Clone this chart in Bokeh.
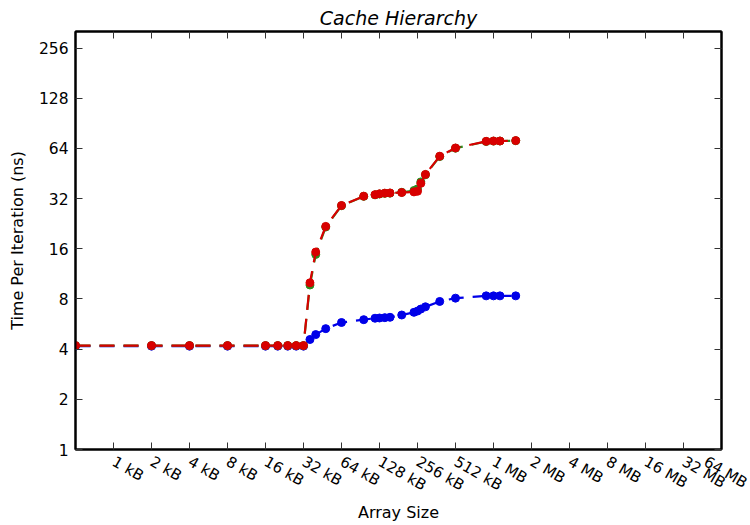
import math
from bokeh.plotting import figure
from bokeh.models import (Range1d, LogAxis, FixedTicker, ColumnDataSource)
from bokeh.embed import file_html
from bokeh.resources import INLINE

# ---- data (array size in kB, time per iteration in ns) ----
sizes_kb = [0.5, 2, 4, 8, 16, 20, 24, 28, 32, 36, 40, 48, 64, 96, 118, 128, 141, 155,
            192, 240, 256, 272, 296, 384, 512, 896, 1024, 1152, 1536]
blue_ns = [4.17, 4.17, 4.17, 4.17, 4.17, 4.17, 4.17, 4.17, 4.17, 4.57, 4.89, 5.31, 5.78,
           6.01, 6.13, 6.15, 6.18, 6.21, 6.41, 6.65, 6.77, 6.96, 7.18, 7.73, 8.09,
           8.35, 8.35, 8.35, 8.35]
green_ns = [4.2, 4.2, 4.2, 4.2, 4.2, 4.2, 4.2, 4.2, 4.2, 9.7, 14.8, 21.6, 29.0,
            33.0, 33.7, 34.1, 34.4, 34.5, 34.9, 35.8, 36.6, 40.3, 44.5, 57.2, 64.2,
            70.4, 70.8, 70.9, 71.2]
red_ns = [4.2, 4.2, 4.2, 4.2, 4.2, 4.2, 4.2, 4.2, 4.2, 10.0, 15.3, 21.8, 29.1,
          33.1, 33.8, 34.2, 34.5, 34.6, 34.8, 35.1, 35.4, 39.5, 44.7, 57.5, 64.4,
          70.6, 70.9, 70.9, 71.3]

x_tick_bytes = [2 ** k for k in range(10, 27)]
x_tick_labels = ["1 kB", "2 kB", "4 kB", "8 kB", "16 kB", "32 kB", "64 kB", "128 kB",
                 "256 kB", "512 kB", "1 MB", "2 MB", "4 MB", "8 MB", "16 MB", "32 MB",
                 "64 MB"]
y_ticks = [1, 2, 4, 8, 16, 32, 64, 128, 256]

FONT = "DejaVu Sans"

p = figure(width=750, height=525, x_axis_type="log", y_axis_type="log",
           x_range=Range1d(2 ** 9, 2 ** 26), y_range=Range1d(1, 2 ** 8.33),
           output_backend="svg", toolbar_location=None,
           min_border_left=75, min_border_right=29, min_border_top=31,
           min_border_bottom=73)

p.title.text = "Cache Hierarchy"
p.title.align = "center"
p.title.text_font = FONT
p.title.text_font_style = "italic"
p.title.text_font_size = "19px"
p.title.text_color = "black"
p.title.standoff = 6

p.xgrid.visible = False
p.ygrid.visible = False
p.outline_line_color = "black"
p.outline_line_width = 2
p.background_fill_color = "white"
p.border_fill_color = "white"

size_bytes = [s * 1024 for s in sizes_kb]
src = ColumnDataSource(dict(x=size_bytes, blue=blue_ns, green=green_ns, red=red_ns))

for col, color in [("blue", "#0000e8"), ("green", "#2e8b1e"), ("red", "#d80000")]:
    p.line("x", col, source=src, line_color=color, line_width=2.2, line_dash="15 9")
    p.scatter("x", col, source=src, size=8, fill_color=color, line_color=color)

def style_axis(ax, labels=True):
    ax.axis_line_color = "black"
    ax.axis_line_width = 2
    ax.major_tick_in = 7
    ax.major_tick_out = 0
    ax.major_tick_line_color = "#333333"
    ax.major_tick_line_width = 1
    ax.minor_tick_line_color = None
    ax.major_label_text_font = FONT
    ax.major_label_text_color = "black"
    ax.axis_label_text_font = FONT
    ax.axis_label_text_font_style = "normal"
    ax.axis_label_text_color = "black"
    if not labels:
        ax.major_label_text_font_size = "0px"
        ax.major_label_standoff = 0

xa = p.xaxis[0]
xa.ticker = FixedTicker(ticks=x_tick_bytes)
style_axis(xa)
xa.major_label_overrides = dict(zip(x_tick_bytes, x_tick_labels))
xa.major_label_orientation = -math.pi / 6
xa.major_label_text_font_size = "15px"
xa.major_label_standoff = 11
xa.axis_label = "Array Size"
xa.axis_label_text_font_size = "16px"
xa.axis_label_standoff = -2

ya = p.yaxis[0]
ya.ticker = FixedTicker(ticks=y_ticks)
style_axis(ya)
ya.major_label_overrides = {t: str(t) for t in y_ticks}
ya.major_label_text_font_size = "15.5px"
ya.major_label_standoff = 7
ya.axis_label = "Time Per Iteration (ns)"
ya.axis_label_text_font_size = "16px"
ya.axis_label_standoff = 9

top = LogAxis(ticker=FixedTicker(ticks=x_tick_bytes))
style_axis(top, labels=False)
top.major_label_overrides = {t: "" for t in x_tick_bytes}
p.add_layout(top, "above")

right = LogAxis(ticker=FixedTicker(ticks=y_ticks))
style_axis(right, labels=False)
right.major_label_overrides = {t: "" for t in y_ticks}
p.add_layout(right, "right")

open("out.html", "w").write(file_html(p, INLINE))
